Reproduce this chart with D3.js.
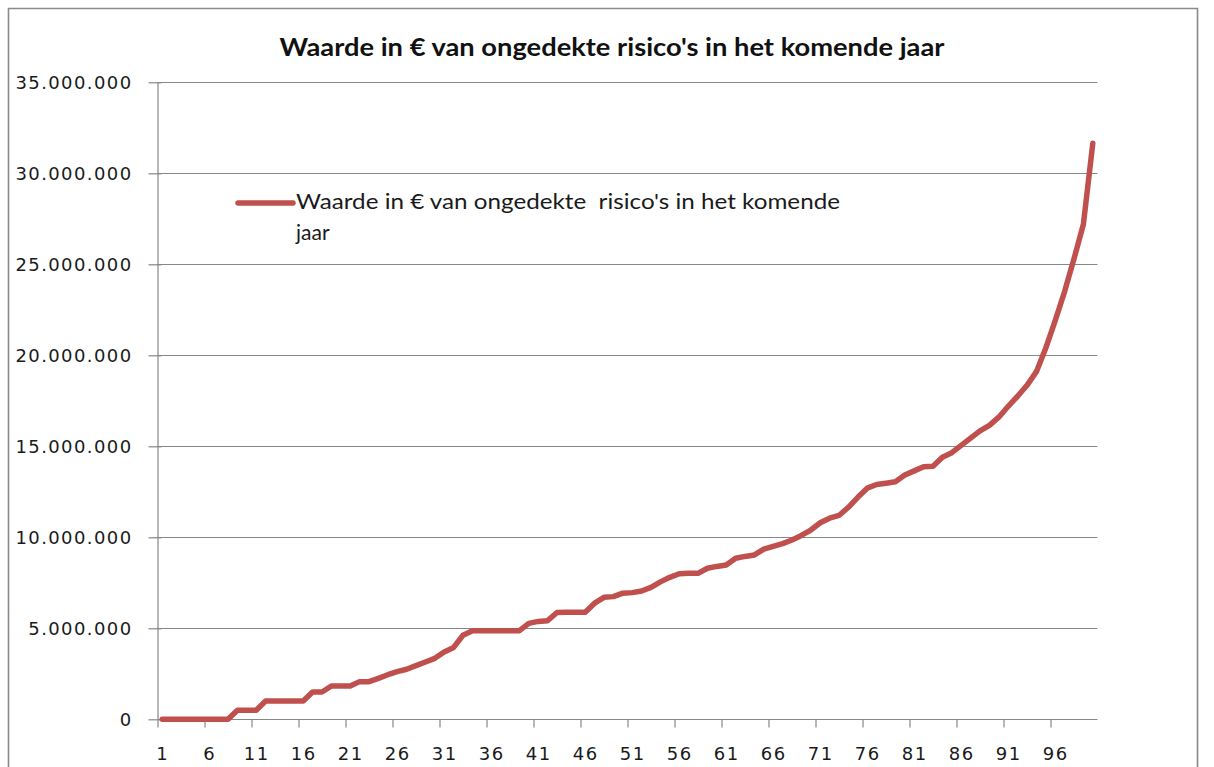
<!DOCTYPE html>
<html><head><meta charset="utf-8">
<script src="https://cdn.jsdelivr.net/npm/d3@7"></script>
<style>html,body{margin:0;padding:0;background:#fff;}svg{display:block;}</style>
</head><body>
<svg id="c" width="1214" height="767"></svg>
<script>
// ---- data ----
const title = "Waarde in € van ongedekte risico's in het komende jaar";
const seriesName = "Waarde in € van ongedekte  risico's in het komende jaar";
const categories = d3.range(1, 101); // 1..100
const values = [
  0,0,0,0,0,0,0,0, 500000,500000,                       // 1-10
  500000,1000000,1000000,1000000,1000000,1000000,1500000,1500000,1830000,1830000, // 11-20
  1830000,2070000,2070000,2250000,2450000,2620000,2750000,2950000,3150000,3350000, // 21-30
  3700000,3950000,4620000,4870000,4870000,4870000,4870000,4870000,4870000,5270000, // 31-40
  5380000,5420000,5870000,5880000,5880000,5880000,6380000,6700000,6740000,6930000, // 41-50
  6960000,7050000,7250000,7550000,7800000,8000000,8020000,8020000,8300000,8400000, // 51-60
  8480000,8850000,8950000,9030000,9350000,9500000,9650000,9850000,10100000,10400000, // 61-70
  10800000,11050000,11200000,11650000,12200000,12700000,12900000,12970000,13050000,13420000, // 71-80
  13650000,13880000,13900000,14400000,14650000,15050000,15450000,15850000,16150000,16600000, // 81-90
  17200000,17750000,18350000,19100000,20400000,21900000,23500000,25300000,27200000,31650000  // 91-100
];
const yTickValues = [0,5000000,10000000,15000000,20000000,25000000,30000000,35000000];
const xTickMarks = d3.range(0, 20).map(k => 0.5 + 5*k);
const xTickLabels = d3.range(0, 20).map(k => 1 + 5*k);

// ---- layout ----
const svg = d3.select("#c");
const plot = {left:157.5, right:1097.5, top:82.3, bottom:719.3};
const x = d3.scaleLinear().domain([0.5, 100.5]).range([plot.left, plot.right]);
const y = d3.scaleLinear().domain([0, 35000000]).range([plot.bottom, plot.top]);
const loc = d3.formatLocale({decimal:",", thousands:".", grouping:[3], currency:["€",""]});
const fmt = loc.format(",d");
const gridColor = "#878787";

// chart border
svg.append("path").attr("d","M8.5,780 V8.5 H1197.5 V780")
  .attr("fill","none").attr("stroke","#8a8a8a").attr("stroke-width",1.6);

// title
svg.append("text").attr("x",612).attr("y",56).attr("text-anchor","middle")
  .attr("font-family","Lato, 'Open Sans', sans-serif").attr("font-weight","bold")
  .attr("font-size",24).attr("fill","#111")
  .attr("textLength",665).attr("lengthAdjust","spacingAndGlyphs")
  .text(title);

// gridlines
svg.append("g").selectAll("line").data(yTickValues.filter(v=>v>0)).join("line")
  .attr("x1",plot.left).attr("x2",plot.right)
  .attr("y1",d=>Math.round(y(d))+0.5).attr("y2",d=>Math.round(y(d))+0.5)
  .attr("stroke",gridColor).attr("stroke-width",1.2);

// y axis
const yAxis = d3.axisLeft(y).tickValues(yTickValues).tickSize(9).tickPadding(16).tickFormat(fmt);
const gy = svg.append("g").attr("transform",`translate(${plot.left},0)`).call(yAxis);
gy.select(".domain").attr("stroke",gridColor).attr("stroke-width",1.2).attr("d",`M0.5,${plot.top}V${plot.bottom}`);
gy.selectAll(".tick line").attr("stroke",gridColor).attr("stroke-width",1.2).attr("x2",-9).attr("x1",4);
gy.selectAll(".tick text").attr("font-family","'DejaVu Sans', Verdana, sans-serif")
  .attr("font-size",18).attr("letter-spacing","1.4px").attr("fill","#1a1a1a").attr("dy","0.36em");

// x axis tick marks
const xAxis = d3.axisBottom(x).tickValues(xTickMarks).tickSize(8).tickFormat("");
const gx = svg.append("g").attr("transform",`translate(0,${Math.round(plot.bottom)+0.5})`).call(xAxis);
gx.select(".domain").attr("stroke",gridColor).attr("stroke-width",1.2).attr("d",`M${plot.left},0H${plot.right}`);
gx.selectAll(".tick line").attr("stroke",gridColor).attr("stroke-width",1.2);

// x axis labels
const xLab = d3.axisBottom(x).tickValues(xTickLabels).tickSize(0).tickPadding(28).tickFormat(d3.format("d"));
const gxl = svg.append("g").attr("transform",`translate(0,${Math.round(plot.bottom)+0.5})`).call(xLab);
gxl.select(".domain").remove();
gxl.selectAll(".tick text").attr("font-family","'DejaVu Sans', Verdana, sans-serif")
  .attr("font-size",18).attr("letter-spacing","1.4px").attr("fill","#1a1a1a");

// line
const lineColor = "#C0504D";
const line = d3.line().x((d,i)=>x(categories[i])).y(d=>y(d));
svg.append("path").datum(values).attr("d",line)
  .attr("fill","none").attr("stroke",lineColor).attr("stroke-width",5.5)
  .attr("stroke-linejoin","round").attr("stroke-linecap","round");

// legend
const lg = svg.append("g");
lg.append("line").attr("x1",238).attr("x2",293).attr("y1",203).attr("y2",203)
  .attr("stroke",lineColor).attr("stroke-width",5.5).attr("stroke-linecap","round");
const words = seriesName.split(" jaar");
lg.append("text").attr("x",296).attr("y",209)
  .attr("font-family","Lato, 'Open Sans', sans-serif").attr("font-size",21).attr("fill","#1a1a1a")
  .attr("textLength",544).attr("lengthAdjust","spacingAndGlyphs")
  .attr("xml:space","preserve").style("white-space","pre")
  .text(words[0]);
lg.append("text").attr("x",296).attr("y",240)
  .attr("font-family","Lato, 'Open Sans', sans-serif").attr("font-size",21).attr("fill","#1a1a1a")
  .text("jaar");
</script>
</body></html>
